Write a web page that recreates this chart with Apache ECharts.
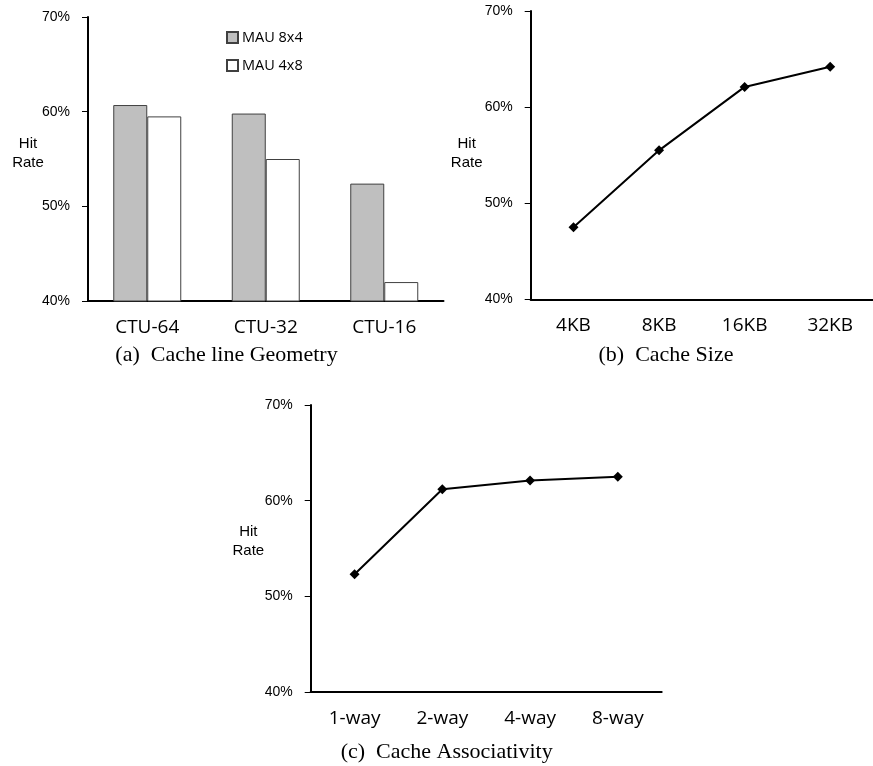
<!DOCTYPE html>
<html>
<head>
<meta charset="utf-8">
<script src="https://cdn.jsdelivr.net/npm/echarts@6/dist/echarts.min.js"></script>
<style>
  html, body { margin: 0; padding: 0; background: #fff; }
  #chart { width: 873px; height: 766px; }
</style>
</head>
<body>
<div id="chart"></div>
<script>
// (a) cache line geometry
const ctuLabels = ['CTU-64', 'CTU-32', 'CTU-16']
const mau8x4 = [60.7, 59.8, 52.4]
const mau4x8 = [59.5, 55.0, 42.0]

// (b) cache size
const sizeLabels = ['4KB', '8KB', '16KB', '32KB']
const sizeHit = [47.5, 55.5, 62.1, 64.2]

// (c) associativity
const wayLabels = ['1-way', '2-way', '4-way', '8-way']
const wayHit = [52.3, 61.2, 62.1, 62.5]

const captions = ['(a)  Cache line Geometry', '(b)  Cache Size', '(c)  Cache Associativity']
const yTitle = 'Hit\nRate'

const sans = 'Liberation Sans'
const calib = 'Open Sans'

function yAxis(gridIndex) {
  return {
    type: 'value',
    gridIndex,
    min: 40,
    max: 70,
    interval: 10,
    axisLine: { show: true, lineStyle: { color: '#000', width: 2 } },
    axisTick: { show: true, length: 6, lineStyle: { color: '#000', width: 1 } },
    splitLine: { show: false },
    axisLabel: {
      formatter: '{value}%',
      fontFamily: sans,
      fontSize: 14,
      color: '#000',
      margin: 18,
    },
  }
}

function xAxis(gridIndex, data) {
  return {
    type: 'category',
    gridIndex,
    data,
    axisLine: { lineStyle: { color: '#000', width: 2 } },
    axisTick: { show: false },
    axisLabel: {
      fontFamily: calib,
      fontSize: 19,
      color: '#000',
      margin: 17,
    },
  }
}

function lineSeries(axis, data) {
  return {
    type: 'line',
    xAxisIndex: axis,
    yAxisIndex: axis,
    data,
    symbol: 'diamond',
    symbolSize: 10,
    lineStyle: { color: '#000', width: 2 },
    itemStyle: { color: '#000' },
    silent: true,
  }
}

function label(text, x, y, font, lineHeight) {
  return {
    type: 'text',
    x,
    y,
    style: {
      text,
      font,
      lineHeight,
      fill: '#000',
      textAlign: 'center',
      textVerticalAlign: 'middle',
    },
  }
}

const chart = echarts.init(document.getElementById('chart'))

chart.setOption({
  animation: false,
  grid: [
    { left: 88, top: 17, width: 355.5, height: 284 },
    { left: 530.7, top: 11, width: 352, height: 288.3 },
    { left: 310.7, top: 405, width: 351, height: 287 },
  ],
  xAxis: [xAxis(0, ctuLabels), xAxis(1, sizeLabels), xAxis(2, wayLabels)],
  yAxis: [yAxis(0), yAxis(1), yAxis(2)],
  legend: {
    orient: 'vertical',
    left: 221,
    top: 25,
    icon: 'rect',
    itemWidth: 11,
    itemHeight: 11,
    itemGap: 13,
    textStyle: { fontFamily: calib, fontSize: 14.5, color: '#000', padding: [0, 0, 0, -1] },
    data: ['MAU 8x4', 'MAU 4x8'],
  },
  series: [
    {
      name: 'MAU 8x4',
      type: 'bar',
      data: mau8x4,
      barWidth: 34,
      barGap: '0%',
      itemStyle: { color: '#bfbfbf', borderColor: '#404040', borderWidth: 1 },
    },
    {
      name: 'MAU 4x8',
      type: 'bar',
      data: mau4x8,
      barWidth: 34,
      barGap: '0%',
      itemStyle: { color: '#fff', borderColor: '#404040', borderWidth: 1 },
    },
    lineSeries(1, sizeHit),
    lineSeries(2, wayHit),
  ],
  graphic: [
    label(captions[0], 226.5, 355, '22px "Liberation Serif"'),
    label(captions[1], 666, 355, '22px "Liberation Serif"'),
    label(captions[2], 446.7, 752, '22px "Liberation Serif"'),
    label(yTitle, 28, 153.5, '15px "Liberation Sans"', 19),
    label(yTitle, 466.7, 153, '15px "Liberation Sans"', 19),
    label(yTitle, 248.3, 541, '15px "Liberation Sans"', 19),
  ],
})
</script>
</body>
</html>
